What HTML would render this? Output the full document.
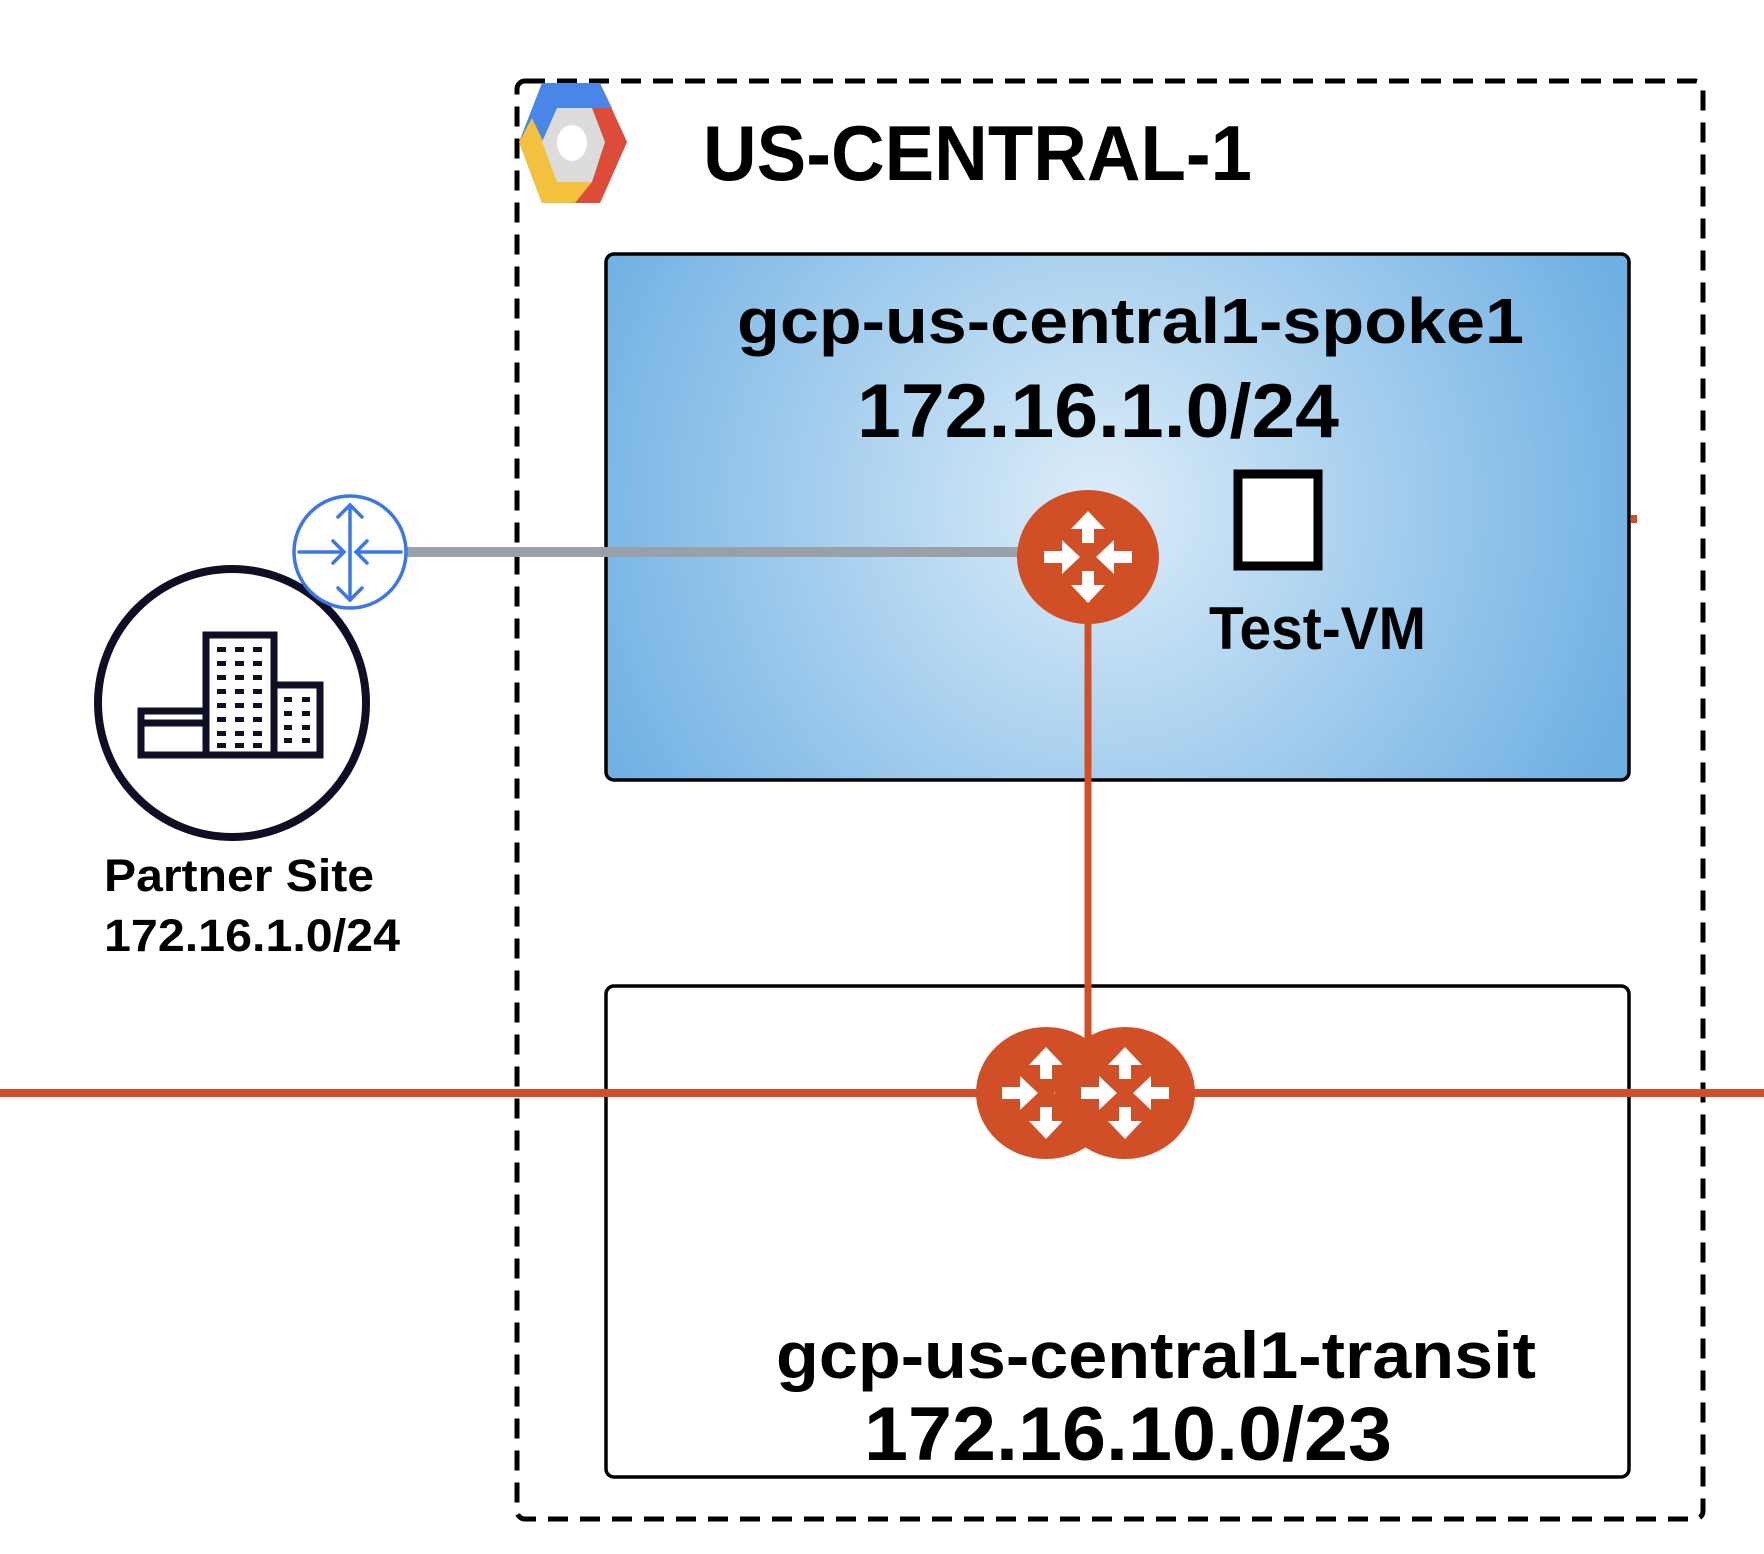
<!DOCTYPE html>
<html><head><meta charset="utf-8"><style>
html,body{margin:0;padding:0;background:#fff;}
svg{display:block;}
text{font-family:"Liberation Sans",sans-serif;font-weight:bold;fill:#000;}
</style></head><body>
<svg width="1764" height="1554" viewBox="0 0 1764 1554" xmlns="http://www.w3.org/2000/svg">
<defs>
<radialGradient id="g" cx="1100" cy="506" r="560" gradientUnits="userSpaceOnUse">
<stop offset="0" stop-color="#dcedf9"/>
<stop offset="1" stop-color="#6fb0e3"/>
</radialGradient>
<g id="arrows" fill="#fff">
<path d="M0,-46 L-17,-28 L-6,-28 L-6,-14 L6,-14 L6,-28 L17,-28 Z"/>
<path d="M0,46 L-17,28 L-6,28 L-6,14 L6,14 L6,28 L17,28 Z"/>
<path d="M-8,0 L-26,-17 L-26,-6 L-44,-6 L-44,6 L-26,6 L-26,17 Z"/>
<path d="M8,0 L26,-17 L26,-6 L44,-6 L44,6 L26,6 L26,17 Z"/>
</g>
</defs>
<!-- dashed region -->
<rect x="517" y="81" width="1186" height="1438" rx="8" fill="none" stroke="#000" stroke-width="5" stroke-dasharray="20,12"/>
<!-- logo -->
<polygon points="542,83 600,83 627,142 600,203 542,203 519,142" fill="#4a86e8"/>
<polygon points="600,83 627,142 600,203 560,203 592,182 605,142 592,108 612,108" fill="#dd4b39"/>
<polygon points="519,142 532,118 552,160 557,182 592,182 575,203 542,203" fill="#f4c13f"/>
<polygon points="557,108 592,108 605,142 592,182 557,182 542,142" fill="#dcdcdc"/>
<ellipse cx="572" cy="143" rx="15" ry="18" fill="#fff"/>
<text x="703" y="180" font-size="78" textLength="549" lengthAdjust="spacingAndGlyphs">US-CENTRAL-1</text>
<!-- spoke box -->
<rect x="606" y="254" width="1023" height="526" rx="8" fill="url(#g)" stroke="#000" stroke-width="3.5"/>
<text x="737" y="343" font-size="64" textLength="787" lengthAdjust="spacingAndGlyphs">gcp-us-central1-spoke1</text>
<text x="857" y="437" font-size="76" textLength="482" lengthAdjust="spacingAndGlyphs">172.16.1.0/24</text>
<rect x="1238" y="474" width="80" height="92" fill="#fff" stroke="#000" stroke-width="9"/>
<text x="1209" y="649" font-size="60" textLength="217" lengthAdjust="spacingAndGlyphs">Test-VM</text>
<rect x="1631" y="515" width="6" height="8" fill="#d04f27"/>
<!-- transit box -->
<rect x="606" y="986" width="1023" height="491" rx="8" fill="#fff" stroke="#000" stroke-width="3.5"/>
<text x="776" y="1378" font-size="66" textLength="760" lengthAdjust="spacingAndGlyphs">gcp-us-central1-transit</text>
<text x="864" y="1460" font-size="76" textLength="528" lengthAdjust="spacingAndGlyphs">172.16.10.0/23</text>
<!-- lines -->
<line x1="405" y1="552" x2="1020" y2="552" stroke="#9aa0a8" stroke-width="10"/>
<line x1="1088" y1="600" x2="1088" y2="1040" stroke="#d04f27" stroke-width="7"/>
<line x1="0" y1="1093" x2="1764" y2="1093" stroke="#d04f27" stroke-width="8"/>
<!-- routers -->
<ellipse cx="1088" cy="557" rx="71" ry="67" fill="#d04f27"/>
<use href="#arrows" x="1088" y="557"/>
<ellipse cx="1046" cy="1093" rx="70" ry="66" fill="#d04f27"/>
<use href="#arrows" x="1046" y="1093"/>
<ellipse cx="1125" cy="1093" rx="70" ry="66" fill="#d04f27"/>
<use href="#arrows" x="1125" y="1093"/>
<!-- partner site -->
<circle cx="232" cy="703" r="134" fill="#fff" stroke="#0e0e24" stroke-width="8"/>
<g fill="none" stroke="#0e0e24" stroke-width="7">
<rect x="206" y="635" width="68" height="120"/>
<rect x="141" y="711" width="65" height="44"/>
<line x1="141" y1="723" x2="206" y2="723"/>
<rect x="274" y="685" width="46" height="70"/>
</g>
<g fill="#0e0e24">
<rect x="217" y="647" width="9" height="5"/><rect x="235" y="647" width="9" height="5"/><rect x="253" y="647" width="9" height="5"/>
<rect x="217" y="661" width="9" height="5"/><rect x="235" y="661" width="9" height="5"/><rect x="253" y="661" width="9" height="5"/>
<rect x="217" y="675" width="9" height="5"/><rect x="235" y="675" width="9" height="5"/><rect x="253" y="675" width="9" height="5"/>
<rect x="217" y="689" width="9" height="5"/><rect x="235" y="689" width="9" height="5"/><rect x="253" y="689" width="9" height="5"/>
<rect x="217" y="703" width="9" height="5"/><rect x="235" y="703" width="9" height="5"/><rect x="253" y="703" width="9" height="5"/>
<rect x="217" y="717" width="9" height="5"/><rect x="235" y="717" width="9" height="5"/><rect x="253" y="717" width="9" height="5"/>
<rect x="217" y="731" width="9" height="5"/><rect x="235" y="731" width="9" height="5"/><rect x="253" y="731" width="9" height="5"/>
<rect x="217" y="743" width="9" height="5"/><rect x="235" y="743" width="9" height="5"/><rect x="253" y="743" width="9" height="5"/>
<rect x="284" y="697" width="8" height="5"/><rect x="302" y="697" width="8" height="5"/>
<rect x="284" y="711" width="8" height="5"/><rect x="302" y="711" width="8" height="5"/>
<rect x="284" y="725" width="8" height="5"/><rect x="302" y="725" width="8" height="5"/>
<rect x="284" y="738" width="8" height="5"/><rect x="302" y="738" width="8" height="5"/>
</g>
<!-- blue router -->
<circle cx="350" cy="552" r="56" fill="#fff" stroke="#3b78e7" stroke-width="3.5"/>
<g stroke="#3b78e7" stroke-width="3.5" fill="none" stroke-linecap="round">
<line x1="350" y1="505" x2="350" y2="600"/>
<polyline points="338,517 350,505 362,517"/>
<polyline points="338,588 350,600 362,588"/>
<line x1="299" y1="552" x2="343" y2="552"/>
<polyline points="333,541 344,552 333,563"/>
<line x1="357" y1="552" x2="401" y2="552"/>
<polyline points="367,541 356,552 367,563"/>
</g>
<text x="104" y="891" font-size="45" textLength="270" lengthAdjust="spacingAndGlyphs">Partner Site</text>
<text x="104" y="951" font-size="45" textLength="296" lengthAdjust="spacingAndGlyphs">172.16.1.0/24</text>
</svg>
</body></html>
